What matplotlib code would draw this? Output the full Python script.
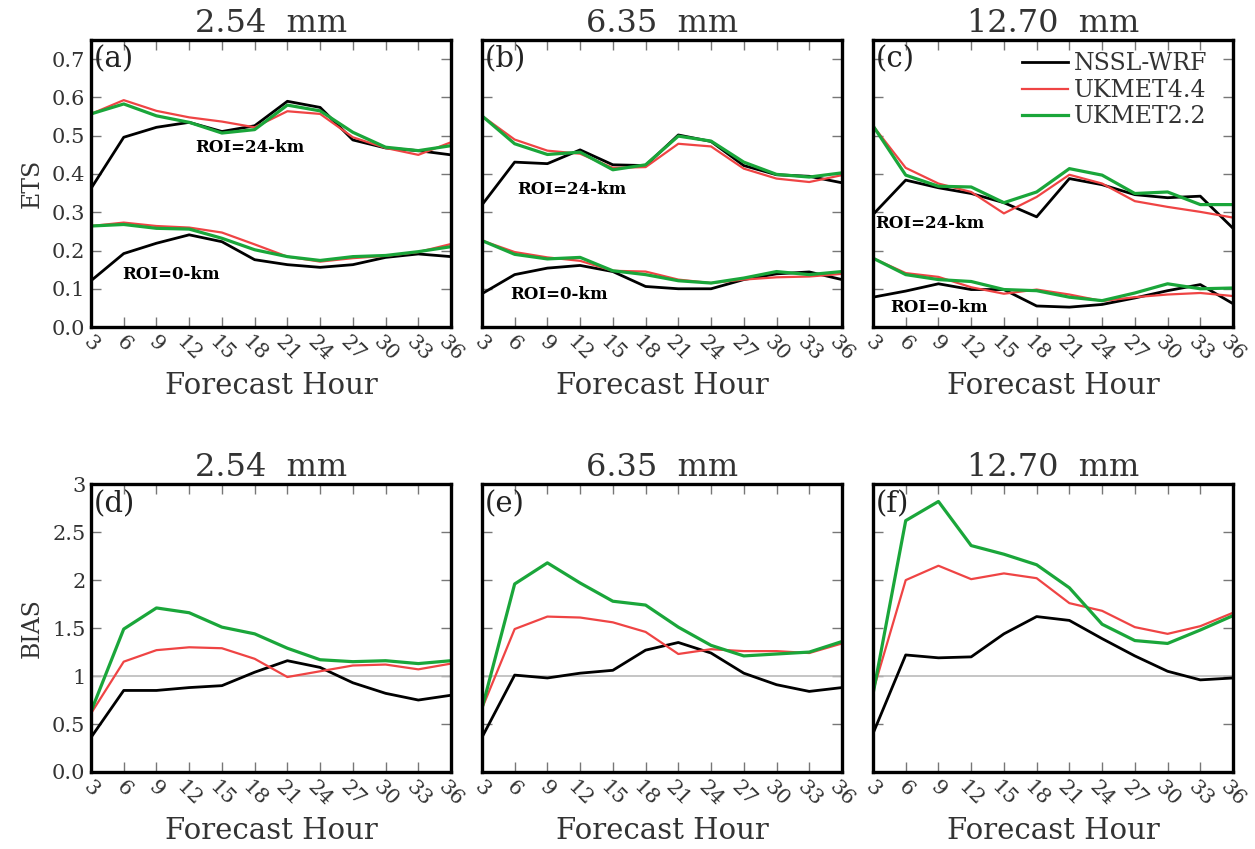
import numpy as np
import matplotlib
matplotlib.use("Agg")
import matplotlib.pyplot as plt

hours = [3, 6, 9, 12, 15, 18, 21, 24, 27, 30, 33, 36]
thresholds = ["2.54  mm", "6.35  mm", "12.70  mm"]
models = ["NSSL-WRF", "UKMET4.4", "UKMET2.2"]
colors = ["black", "#ef4444", "#1aa63a"]
widths = [2.0, 1.6, 2.3]

# ETS, ROI=24-km, per panel (a, b, c), per model
ets24_a_nssl = [0.362, 0.496, 0.522, 0.535, 0.511, 0.526, 0.590, 0.574, 0.489, 0.468, 0.461, 0.450]
ets24_a_uk44 = [0.557, 0.593, 0.565, 0.548, 0.537, 0.522, 0.564, 0.557, 0.496, 0.468, 0.450, 0.483]
ets24_a_uk22 = [0.557, 0.583, 0.552, 0.535, 0.507, 0.516, 0.580, 0.565, 0.509, 0.470, 0.461, 0.474]
ets24_b_nssl = [0.319, 0.431, 0.427, 0.463, 0.424, 0.422, 0.502, 0.485, 0.422, 0.398, 0.394, 0.377]
ets24_b_uk44 = [0.552, 0.490, 0.461, 0.453, 0.416, 0.418, 0.479, 0.472, 0.414, 0.388, 0.379, 0.397]
ets24_b_uk22 = [0.552, 0.479, 0.451, 0.457, 0.411, 0.424, 0.499, 0.486, 0.431, 0.399, 0.392, 0.403]
ets24_c_nssl = [0.294, 0.384, 0.364, 0.349, 0.325, 0.288, 0.388, 0.372, 0.346, 0.338, 0.342, 0.258]
ets24_c_uk44 = [0.526, 0.416, 0.375, 0.353, 0.297, 0.340, 0.398, 0.375, 0.329, 0.314, 0.301, 0.286]
ets24_c_uk22 = [0.526, 0.397, 0.368, 0.366, 0.325, 0.353, 0.414, 0.397, 0.349, 0.353, 0.320, 0.320]

# ETS, ROI=0-km
ets0_a_nssl = [0.121, 0.192, 0.219, 0.241, 0.223, 0.176, 0.163, 0.156, 0.163, 0.182, 0.191, 0.184]
ets0_a_uk44 = [0.264, 0.273, 0.264, 0.260, 0.247, 0.216, 0.184, 0.171, 0.180, 0.186, 0.196, 0.217]
ets0_a_uk22 = [0.264, 0.268, 0.258, 0.256, 0.232, 0.202, 0.184, 0.174, 0.184, 0.187, 0.197, 0.210]
ets0_b_nssl = [0.087, 0.137, 0.154, 0.161, 0.145, 0.106, 0.100, 0.100, 0.124, 0.139, 0.144, 0.124]
ets0_b_uk44 = [0.226, 0.196, 0.182, 0.173, 0.147, 0.145, 0.124, 0.115, 0.124, 0.130, 0.132, 0.139]
ets0_b_uk22 = [0.226, 0.190, 0.178, 0.182, 0.147, 0.137, 0.121, 0.115, 0.128, 0.145, 0.137, 0.145]
ets0_c_nssl = [0.078, 0.094, 0.113, 0.098, 0.098, 0.055, 0.052, 0.059, 0.076, 0.095, 0.111, 0.061]
ets0_c_uk44 = [0.180, 0.141, 0.131, 0.104, 0.087, 0.098, 0.085, 0.068, 0.078, 0.085, 0.089, 0.081]
ets0_c_uk22 = [0.180, 0.137, 0.124, 0.119, 0.098, 0.095, 0.078, 0.069, 0.089, 0.113, 0.100, 0.102]

# BIAS, ROI=24-km
bias_d_nssl = [0.36, 0.85, 0.85, 0.88, 0.90, 1.04, 1.16, 1.09, 0.93, 0.82, 0.75, 0.80]
bias_d_uk44 = [0.61, 1.15, 1.27, 1.30, 1.29, 1.18, 0.99, 1.05, 1.11, 1.12, 1.07, 1.13]
bias_d_uk22 = [0.63, 1.49, 1.71, 1.66, 1.51, 1.44, 1.29, 1.17, 1.15, 1.16, 1.13, 1.16]
bias_e_nssl = [0.36, 1.01, 0.98, 1.03, 1.06, 1.27, 1.35, 1.24, 1.03, 0.91, 0.84, 0.88]
bias_e_uk44 = [0.66, 1.49, 1.62, 1.61, 1.56, 1.46, 1.23, 1.28, 1.26, 1.26, 1.24, 1.34]
bias_e_uk22 = [0.66, 1.96, 2.18, 1.97, 1.78, 1.74, 1.51, 1.32, 1.21, 1.23, 1.25, 1.36]
bias_f_nssl = [0.40, 1.22, 1.19, 1.20, 1.44, 1.62, 1.58, 1.39, 1.21, 1.05, 0.96, 0.98]
bias_f_uk44 = [0.84, 2.00, 2.15, 2.01, 2.07, 2.02, 1.76, 1.68, 1.51, 1.44, 1.52, 1.66]
bias_f_uk22 = [0.81, 2.62, 2.82, 2.36, 2.27, 2.16, 1.92, 1.54, 1.37, 1.34, 1.48, 1.63]

ets_panels = [
    ([ets24_a_nssl, ets24_a_uk44, ets24_a_uk22], [ets0_a_nssl, ets0_a_uk44, ets0_a_uk22]),
    ([ets24_b_nssl, ets24_b_uk44, ets24_b_uk22], [ets0_b_nssl, ets0_b_uk44, ets0_b_uk22]),
    ([ets24_c_nssl, ets24_c_uk44, ets24_c_uk22], [ets0_c_nssl, ets0_c_uk44, ets0_c_uk22]),
]
bias_panels = [
    [bias_d_nssl, bias_d_uk44, bias_d_uk22],
    [bias_e_nssl, bias_e_uk44, bias_e_uk22],
    [bias_f_nssl, bias_f_uk44, bias_f_uk22],
]
# where the ROI labels sit (data coords)
roi24_pos = [(12.6, 0.47), (6.2, 0.36), (3.2, 0.27)]
roi0_pos = [(5.9, 0.138), (5.6, 0.086), (4.6, 0.05)]

plt.rcParams['font.family'] = ['DejaVu Serif']
TXT = '#333333'
fig = plt.figure(figsize=(12.55, 8.49), dpi=100)

lefts = [0.0725, 0.384, 0.6956]
w = 0.2869
rows = [(0.6148, 0.338), (0.0907, 0.339)]


def style(ax, title, letter):
    ax.set_xlim(3, 36)
    ax.set_xticks(hours)
    ax.set_xticklabels([str(h) for h in hours], rotation=-45, ha='center')
    ax.tick_params(direction='in', top=True, right=True, length=7, width=1,
                   color='#777777', labelsize=15, labelcolor=TXT, pad=4)
    for s in ax.spines.values():
        s.set_linewidth(2.4)
    ax.set_title(title, fontsize=23, pad=6, color=TXT)
    ax.set_xlabel("Forecast Hour", fontsize=21, labelpad=5, color=TXT)
    ax.text(0.008, 0.98, letter, transform=ax.transAxes, fontsize=21,
            va='top', ha='left', color='#222222')


letters_top = ["(a)", "(b)", "(c)"]
letters_bot = ["(d)", "(e)", "(f)"]

for i in range(3):
    ax = fig.add_axes([lefts[i], rows[0][0], w, rows[0][1]])
    roi24, roi0 = ets_panels[i]
    for j in range(3):
        ax.plot(hours, roi24[j], color=colors[j], lw=widths[j], label=models[j])
        ax.plot(hours, roi0[j], color=colors[j], lw=widths[j])
    ax.set_ylim(0, 0.75)
    ax.set_yticks(np.arange(0, 0.71, 0.1))
    if i == 0:
        ax.set_yticklabels(["%.1f" % v for v in np.arange(0, 0.71, 0.1)])
        ax.set_ylabel("ETS", fontsize=17, color=TXT, labelpad=6)
    else:
        ax.set_yticklabels([])
    ax.text(roi24_pos[i][0], roi24_pos[i][1], "ROI=24-km", fontsize=12,
            fontweight='bold', va='center', ha='left')
    ax.text(roi0_pos[i][0], roi0_pos[i][1], "ROI=0-km", fontsize=12,
            fontweight='bold', va='center', ha='left')
    style(ax, thresholds[i], letters_top[i])
    if i == 2:
        ax.legend(loc='upper right', bbox_to_anchor=(0.955, 0.99), frameon=False,
                  fontsize=17, handlelength=1.95, handletextpad=0.25,
                  labelspacing=0.15, borderaxespad=0, labelcolor=TXT)

for i in range(3):
    ax = fig.add_axes([lefts[i], rows[1][0], w, rows[1][1]])
    ax.axhline(1, color='#bbbbbb', lw=1.2)
    for j in range(3):
        ax.plot(hours, bias_panels[i][j], color=colors[j], lw=widths[j])
    ax.set_ylim(0, 3)
    ax.set_yticks([0, 0.5, 1, 1.5, 2, 2.5, 3])
    if i == 0:
        ax.set_yticklabels(["0.0", "0.5", "1", "1.5", "2", "2.5", "3"])
        ax.set_ylabel("BIAS", fontsize=17, color=TXT, labelpad=6)
    else:
        ax.set_yticklabels([])
    style(ax, thresholds[i], letters_bot[i])

fig.savefig("out.png", dpi=100)
